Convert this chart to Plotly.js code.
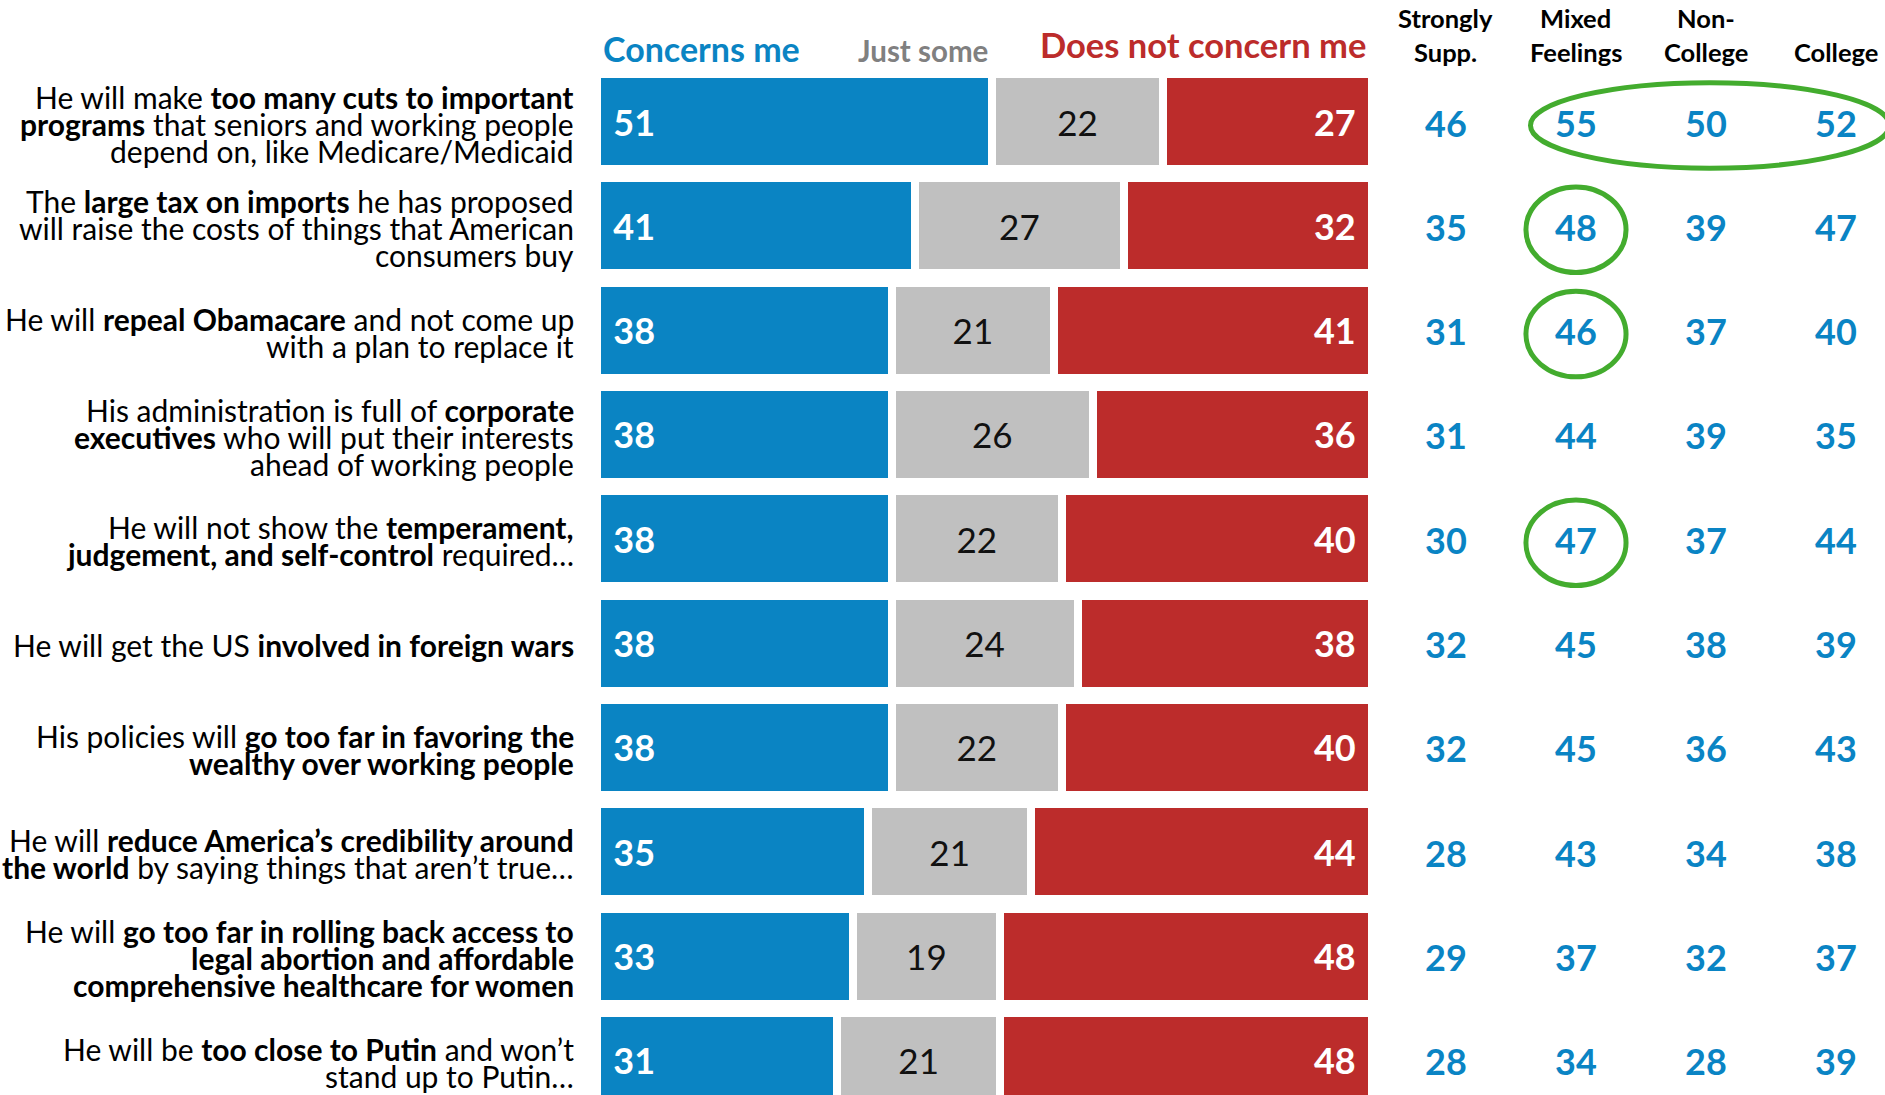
<!DOCTYPE html>
<html><head><meta charset="utf-8">
<script src="https://cdn.plot.ly/plotly-3.0.1.min.js"></script>
<style>html,body{margin:0;padding:0;background:#fff;overflow:hidden}#chart{width:1885px;height:1095px}</style>
</head><body><div id="chart"></div>
<script>
// ---------- DATA ----------
const statements = [
  "He will make <b>too many cuts to important</b><br><b>programs</b> that seniors and working people<br>depend on, like Medicare/Medicaid",
  "The <b>large tax on imports</b> he has proposed<br>will raise the costs of things that American<br>consumers buy",
  "He will <b>repeal Obamacare</b> and not come up<br>with a plan to replace it",
  "His administration is full of <b>corporate</b><br><b>executives</b> who will put their interests<br>ahead of working people",
  "He will not show the <b>temperament,</b><br><b>judgement, and self-control</b> required…",
  "He will get the US <b>involved in foreign wars</b>",
  "His policies will <b>go too far in favoring the</b><br><b>wealthy over working people</b>",
  "He will <b>reduce America’s credibility around</b><br><b>the world</b> by saying things that aren’t true…",
  "He will <b>go too far in rolling back access to</b><br><b>legal abortion and affordable</b><br><b>comprehensive healthcare for women</b>",
  "He will be <b>too close to Putin</b> and won’t<br>stand up to Putin…"
];
const seriesNames = ["Concerns me", "Just some", "Does not concern me"];
const concernsMe     = [51, 41, 38, 38, 38, 38, 38, 35, 33, 31];
const justSome       = [22, 27, 21, 26, 22, 24, 22, 21, 19, 21];
const doesNotConcern = [27, 32, 41, 36, 40, 38, 40, 44, 48, 48];

const groupHeaders = ["Strongly<br>Supp.", "Mixed<br>Feelings", "Non-<br>College", "College"];
const stronglySupp  = [46, 35, 31, 31, 30, 32, 32, 28, 29, 28];
const mixedFeelings = [55, 48, 46, 44, 47, 45, 45, 43, 37, 34];
const nonCollege    = [50, 39, 37, 39, 37, 38, 36, 34, 32, 28];
const college       = [52, 47, 40, 35, 44, 39, 43, 38, 37, 39];

// highlighted cells: [row, first column, last column]
const circled = [[0, 1, 3], [1, 1, 1], [2, 1, 1], [4, 1, 1]];

// ---------- STYLE ----------
const BLUE = '#0A84C3', GRAY = '#C0C0C0', RED = '#BC2C2B', GREEN = '#43AC2E';
const NUMBLUE = '#0A84C4';
const FONT = 'Lato, "Open Sans", sans-serif';
const W = 1885, H = 1095;
const py = px => 1 - px / H;   // pixel-from-top -> paper y
const px2 = px => px / W;

const rowIdx = statements.map((_, i) => i);
const NB = '\u00a0\u2009';

const barBase = {
  type: 'bar', orientation: 'h', y: rowIdx, width: 0.91,
  textposition: 'inside', constraintext: 'none', hoverinfo: 'skip',
  cliponaxis: false
};
const traces = [
  Object.assign({}, barBase, {
    name: seriesNames[0], x: concernsMe,
    marker: {color: BLUE, line: {color: '#ffffff', width: 8}},
    texttemplate: NB + '%{x}', insidetextanchor: 'start',
    textfont: {family: FONT, size: 36, color: '#ffffff', weight: 'bold'}
  }),
  Object.assign({}, barBase, {
    name: seriesNames[1], x: justSome,
    marker: {color: GRAY, line: {color: '#ffffff', width: 8}},
    texttemplate: '%{x}', insidetextanchor: 'middle',
    textfont: {family: FONT, size: 35, color: '#111111'}
  }),
  Object.assign({}, barBase, {
    name: seriesNames[2], x: doesNotConcern,
    marker: {color: RED, line: {color: '#ffffff', width: 8}},
    texttemplate: '%{x}' + '\u2009\u00a0', insidetextanchor: 'end',
    textfont: {family: FONT, size: 36, color: '#ffffff', weight: 'bold'}
  })
];

const groupCols = [stronglySupp, mixedFeelings, nonCollege, college];
groupCols.forEach((vals, j) => {
  traces.push({
    type: 'scatter', mode: 'text', xaxis: 'x2', yaxis: 'y2',
    x: rowIdx.map(() => j), y: rowIdx, text: vals.map(String),
    textposition: 'middle center', hoverinfo: 'skip', cliponaxis: false,
    textfont: {family: FONT, size: 36, color: NUMBLUE, weight: 'bold'},
    showlegend: false
  });
});

// ---------- ANNOTATIONS ----------
const annotations = [];
const LINE = 0.2588; // line pitch in row units
statements.forEach((s, i) => {
  const lines = s.split('<br>');
  const n = lines.length;
  lines.forEach((ln, k) => {
    annotations.push({
      xref: 'x', yref: 'y', x: -2.71, y: i + 0.02 + (k - (n - 1) / 2) * LINE,
      xanchor: 'right', yanchor: 'middle', showarrow: false, text: ln,
      font: {family: FONT, size: 30, color: '#000000'}
    });
  });
});

// series headers
annotations.push({xref: 'paper', yref: 'paper', x: px2(601), y: py(48), xanchor: 'left', yanchor: 'middle',
  showarrow: false, text: '<b>' + seriesNames[0] + '</b>', font: {family: FONT, size: 34, color: BLUE}});
annotations.push({xref: 'paper', yref: 'paper', x: px2(923), y: py(50), xanchor: 'center', yanchor: 'middle',
  showarrow: false, text: '<b>' + seriesNames[1] + '</b>', font: {family: FONT, size: 29.5, color: '#808080'}});
annotations.push({xref: 'paper', yref: 'paper', x: px2(1368), y: py(45), xanchor: 'right', yanchor: 'middle',
  showarrow: false, text: '<b>' + seriesNames[2] + '</b>', font: {family: FONT, size: 34.5, color: RED}});

// group headers (bottom aligned, line by line)
groupHeaders.forEach((h, j) => {
  const lines = h.split('<br>');
  lines.forEach((ln, k) => {
    const fromBottom = lines.length - 1 - k;
    annotations.push({
      xref: 'x2', yref: 'paper', x: j, y: py(52 - fromBottom * 34),
      xanchor: 'center', yanchor: 'middle', showarrow: false,
      text: '<b>' + ln + '</b>', font: {family: FONT, size: 25.5, color: '#000000'}
    });
  });
});

// ---------- SHAPES ----------
const shapes = circled.map(([r, c0, c1]) => ({
  type: 'circle', xref: 'x2', yref: 'y2',
  x0: c0 - (c1 > c0 ? 0.35 : 0.385), x1: c1 + (c1 > c0 ? 0.41 : 0.385),
  y0: r - 0.43, y1: r + 0.39,
  line: {color: GREEN, width: 5}, fillcolor: 'rgba(0,0,0,0)', layer: 'above'
}));

const Y0 = 9.331, Y1 = -1.1646, YSHIFT = 0.0575;
const layout = {
  width: W, height: H, margin: {l: 0, r: 0, t: 0, b: 0, pad: 0},
  barmode: 'stack', showlegend: false,
  paper_bgcolor: '#ffffff', plot_bgcolor: '#ffffff',
  font: {family: FONT},
  xaxis: {range: [-77.032, 166.194], visible: false, fixedrange: true},
  xaxis2: {range: [-11.123, 3.377], overlaying: 'x', visible: false, fixedrange: true},
  yaxis: {range: [Y0, Y1], visible: false, fixedrange: true},
  yaxis2: {range: [Y0 - YSHIFT, Y1 - YSHIFT], overlaying: 'y', visible: false, fixedrange: true},
  annotations: annotations, shapes: shapes
};

Plotly.newPlot('chart', traces, layout, {displayModeBar: false, staticPlot: true});
</script></body></html>
